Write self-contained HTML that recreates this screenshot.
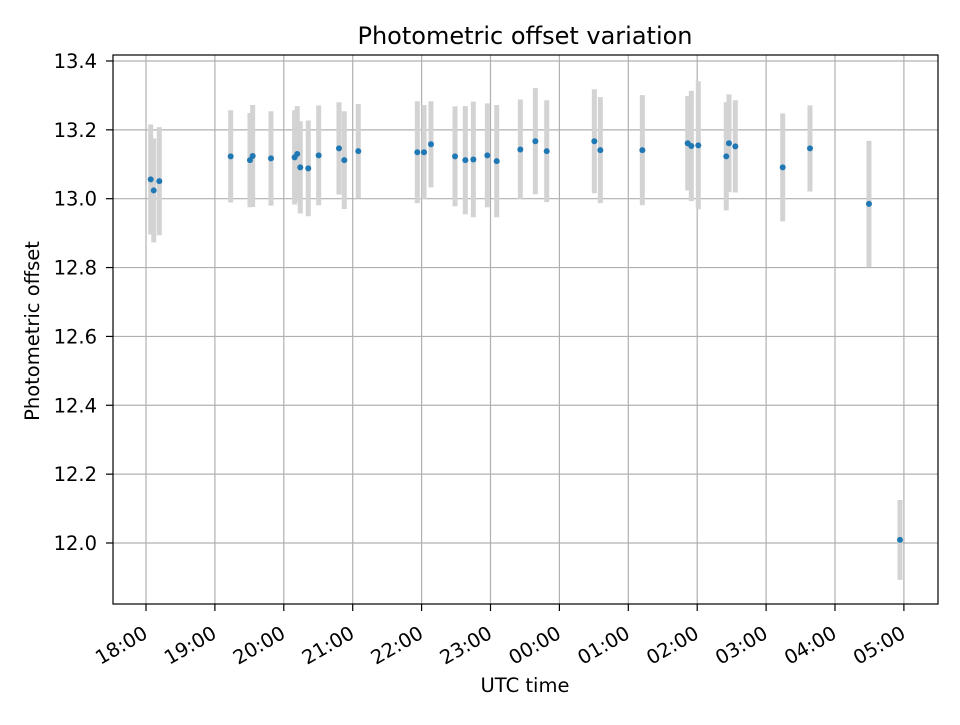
<!DOCTYPE html>
<html><head><meta charset="utf-8"><style>
body{margin:0;background:#fff;font-family:"Liberation Sans","DejaVu Sans",sans-serif}
svg text{font-family:"DejaVu Sans","Liberation Sans",sans-serif;fill:#000}
</style></head><body>
<svg id="chart" width="960" height="720" viewBox="0 0 960 720" xmlns="http://www.w3.org/2000/svg">
<rect width="960" height="720" fill="#fff"/>
<g id="grid"></g><g id="bars"></g><g id="pts"></g><g id="axes"></g>
<text x="525" y="44" font-size="24" text-anchor="middle">Photometric offset variation</text>
<text x="525" y="692" font-size="19.5" text-anchor="middle">UTC time</text>
<text transform="translate(39,331) rotate(-90)" font-size="19.5" text-anchor="middle">Photometric offset</text>
</svg>
<script>
// hours after 18:00 UTC
const times=[0.068,0.112,0.193,1.229,1.509,1.548,1.814,2.157,2.195,2.239,2.355,2.506,2.801,2.878,3.081,3.938,4.035,4.136,4.485,4.635,4.751,4.954,5.090,5.433,5.651,5.816,6.507,6.594,7.204,7.862,7.915,8.016,8.422,8.461,8.553,9.241,9.637,10.493,10.943];
const offsets=[13.056,13.024,13.051,13.123,13.112,13.124,13.117,13.120,13.130,13.091,13.088,13.126,13.146,13.112,13.138,13.135,13.135,13.158,13.123,13.112,13.114,13.126,13.109,13.143,13.167,13.138,13.167,13.141,13.141,13.161,13.153,13.155,13.123,13.161,13.152,13.091,13.146,12.985,12.009];
const errors=[0.160,0.151,0.157,0.134,0.137,0.148,0.137,0.137,0.139,0.134,0.139,0.145,0.134,0.142,0.137,0.148,0.137,0.125,0.145,0.157,0.168,0.151,0.163,0.145,0.154,0.148,0.151,0.154,0.160,0.137,0.160,0.186,0.157,0.142,0.134,0.157,0.125,0.183,0.116];
const yTicks=[12.0,12.2,12.4,12.6,12.8,13.0,13.2,13.4];
const xTickLabels=["18:00","19:00","20:00","21:00","22:00","23:00","00:00","01:00","02:00","03:00","04:00","05:00"];
const L=113,R=938,T=55,B=604;
const X=h=>146+h*68.9;
const Y=v=>543-(v-12)*344.3;
const NS="http://www.w3.org/2000/svg";
function mk(tag,attrs,parent){const e=document.createElementNS(NS,tag);for(const k in attrs)e.setAttribute(k,attrs[k]);document.getElementById(parent).appendChild(e);return e;}
yTicks.forEach(v=>{
 const g=mk('line',{x1:L,x2:R,y1:Y(v),y2:Y(v),stroke:'#b0b0b0','stroke-width':1.2},'grid');
 
 
 mk('line',{x1:L-7,x2:L,y1:Y(v),y2:Y(v),stroke:'#000','stroke-width':1.2},'axes');
 const t=mk('text',{x:L-16,y:Y(v)+7,'font-size':19.5,'text-anchor':'end'},'axes');
 t.textContent=v.toFixed(1);
 
 
});
xTickLabels.forEach((s,i)=>{
 const x=X(i);
 const g=mk('line',{x1:x,x2:x,y1:T,y2:B,stroke:'#b0b0b0','stroke-width':1.2},'grid');
 
 
 mk('line',{x1:x,x2:x,y1:B,y2:B+7,stroke:'#000','stroke-width':1.2},'axes');
 const t=mk('text',{transform:`translate(${x+3},${B+33}) rotate(-30)`,'font-size':19.5,'text-anchor':'end'},'axes');
 t.textContent=s;
 
 
});
const fr=mk('rect',{x:L,y:T,width:R-L,height:B-T,fill:'none',stroke:'#000','stroke-width':1.2},'axes');


times.forEach((h,i)=>{
 const b=mk('line',{x1:X(h),x2:X(h),y1:Y(offsets[i]+errors[i]),y2:Y(offsets[i]-errors[i]),stroke:'#d3d3d3','stroke-width':5},'bars');
 
 
 const p=mk('circle',{cx:X(h),cy:Y(offsets[i]),r:3,fill:'#1f77b4'},'pts');
 
 
});
</script>
</body></html>
